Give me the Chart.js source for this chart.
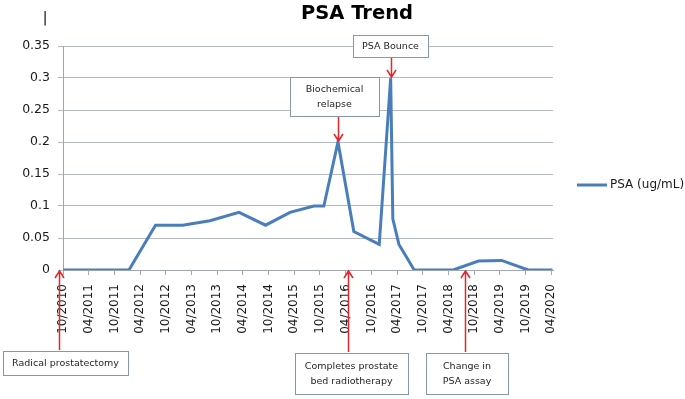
<!DOCTYPE html>
<html>
<head>
<meta charset="utf-8">
<script src="https://cdn.jsdelivr.net/npm/chart.js@4/dist/chart.umd.min.js"></script>
<style>
  html, body { margin: 0; padding: 0; background: #fff; }
  canvas { display: block; }
</style>
</head>
<body>
<canvas id="chart" width="685" height="399"></canvas>
<script>
const psaDates = ['2010-10-01', '2012-01-13', '2012-07-19', '2013-01-29', '2013-08-10', '2014-03-04',
  '2014-09-10', '2015-03-01', '2015-08-19', '2015-10-28', '2016-02-07', '2016-05-28', '2016-11-26',
  '2017-02-16', '2017-03-01', '2017-04-14', '2017-08-01', '2018-05-04', '2018-11-01', '2019-04-13',
  '2019-10-19', '2020-04-10'];
const psaValues = [0, 0, 0.07, 0.07, 0.077, 0.09, 0.07, 0.09, 0.1, 0.1, 0.2, 0.06, 0.04,
  0.3, 0.08, 0.04, 0, 0, 0.014, 0.015, 0, 0];

const xTickLabels = ['10/2010', '04/2011', '10/2011', '04/2012', '10/2012', '04/2013', '10/2013',
  '04/2014', '10/2014', '04/2015', '10/2015', '04/2016', '10/2016', '04/2017', '10/2017',
  '04/2018', '10/2018', '04/2019', '10/2019', '04/2020'];
const yTickLabels = ['0', '0.05', '0.1', '0.15', '0.2', '0.25', '0.3', '0.35'];

// callouts: text lines, date and value the arrow points at
const noteTexts = [['Radical prostatectomy'], ['Completes prostate', 'bed radiotherapy'], ['Change in', 'PSA assay'],
  ['Biochemical', 'relapse'], ['PSA Bounce']];
const noteDates = ['2010-09-01', '2016-04-15', '2018-07-27', '2016-02-07', '2017-02-16'];
const noteValues = [0, 0, 0, 0.2, 0.3];

const FONT = '"DejaVu Sans", sans-serif';

function months(s) {
  let p = s.split('-').map(Number);
  return (p[0] - 2010) * 12 + (p[1] - 10) + (p[2] - 1) / 30;
}

// box style per callout: left, top, width, height, arrow goes up (below plot) or down (above)
const noteBoxes = [
  {l: 3, t: 351, w: 125, h: 24, up: true},
  {l: 295, t: 353, w: 113, h: 41, up: true},
  {l: 426, t: 353, w: 82, h: 41, up: true},
  {l: 290, t: 77, w: 89, h: 39, up: false},
  {l: 353, t: 35, w: 75, h: 22, up: false}
];

const extras = {
  id: 'extras',
  afterDraw(chart) {
    const ctx = chart.ctx, xs = chart.scales.x, ys = chart.scales.y;
    ctx.save();
    // title
    ctx.fillStyle = '#000';
    ctx.font = 'bold 19.5px ' + FONT;
    ctx.textAlign = 'center';
    ctx.textBaseline = 'alphabetic';
    ctx.fillText('PSA Trend', 357, 19);
    ctx.font = '14px ' + FONT;
    ctx.fillText('|', 45, 22);

    // legend
    const ds = chart.data.datasets[0];
    ctx.strokeStyle = ds.borderColor;
    ctx.lineWidth = 3;
    ctx.beginPath();
    ctx.moveTo(577, 185);
    ctx.lineTo(607, 185);
    ctx.stroke();
    ctx.fillStyle = '#1a1a1a';
    ctx.font = '12px ' + FONT;
    ctx.textAlign = 'left';
    ctx.textBaseline = 'middle';
    ctx.fillText(ds.label, 610, 185);

    // callouts
    for (let i = 0; i < noteTexts.length; i++) {
      const b = noteBoxes[i];
      const ax = Math.round(xs.getPixelForValue(months(noteDates[i]))) + 0.5;
      let tip = ys.getPixelForValue(noteValues[i]);
      let from;
      if (b.up) { tip += 1; from = b.t - 1; } else { tip -= 1; from = b.t + b.h; }
      ctx.strokeStyle = '#e3262b';
      ctx.lineWidth = 1.5;
      ctx.beginPath();
      ctx.moveTo(ax, from);
      ctx.lineTo(ax, tip);
      const d = b.up ? 1 : -1;
      ctx.moveTo(ax - 4.5, tip + d * 7);
      ctx.lineTo(ax, tip);
      ctx.lineTo(ax + 4.5, tip + d * 7);
      ctx.stroke();

      ctx.fillStyle = '#fff';
      ctx.fillRect(b.l, b.t, b.w, b.h);
      ctx.strokeStyle = '#8596ad';
      ctx.lineWidth = 1;
      ctx.strokeRect(b.l + 0.5, b.t + 0.5, b.w, b.h);
      ctx.fillStyle = '#1f1f1f';
      ctx.font = '9.5px ' + FONT;
      ctx.textAlign = 'center';
      ctx.textBaseline = 'middle';
      const lines = noteTexts[i];
      const lh = 15;
      const cy = b.t + b.h / 2 + 0.5;
      lines.forEach((s, k) => {
        ctx.fillText(s, b.l + b.w / 2, cy + (k - (lines.length - 1) / 2) * lh);
      });
    }
    ctx.restore();
  }
};

const chart = new Chart(document.getElementById('chart'), {
  type: 'line',
  data: {
    datasets: [{
      label: 'PSA (ug/mL)',
      data: psaDates.map((d, i) => ({x: months(d), y: psaValues[i]})),
      borderColor: '#4a7ebb',
      backgroundColor: '#4a7ebb',
      borderWidth: 3,
      pointRadius: 0,
      tension: 0,
      fill: false
    }]
  },
  options: {
    responsive: false,
    animation: false,
    devicePixelRatio: 1,
    layout: {padding: {left: 0, top: 46, right: 132, bottom: 0}},
    plugins: {
      legend: {display: false},
      title: {display: false},
      tooltip: {enabled: false}
    },
    scales: {
      x: {
        type: 'linear',
        min: 0,
        max: 114.4,
        afterFit(scale) { scale.height = 129; },
        afterBuildTicks(scale) {
          scale.ticks = xTickLabels.map((s, i) => ({value: i * 6}));
        },
        ticks: {
          autoSkip: false,
          minRotation: 90,
          maxRotation: 90,
          padding: 9,
          color: '#1a1a1a',
          font: {family: FONT, size: 12},
          callback: (v, i) => xTickLabels[i]
        },
        grid: {drawOnChartArea: false, drawTicks: true, tickLength: 5, color: '#a0a7b3'},
        border: {display: true, color: '#a0a7b3'}
      },
      y: {
        min: 0,
        max: 0.35,
        afterFit(scale) { scale.width = 63; },
        afterBuildTicks(scale) {
          scale.ticks = yTickLabels.map(s => ({value: parseFloat(s)}));
        },
        ticks: {
          padding: 8,
          color: '#1a1a1a',
          font: {family: FONT, size: 12.5},
          callback: (v, i) => yTickLabels[i]
        },
        grid: {color: '#b3bac6', tickLength: 5},
        border: {display: true, color: '#a0a7b3'}
      }
    }
  },
  plugins: [extras]
});
</script>
</body>
</html>
